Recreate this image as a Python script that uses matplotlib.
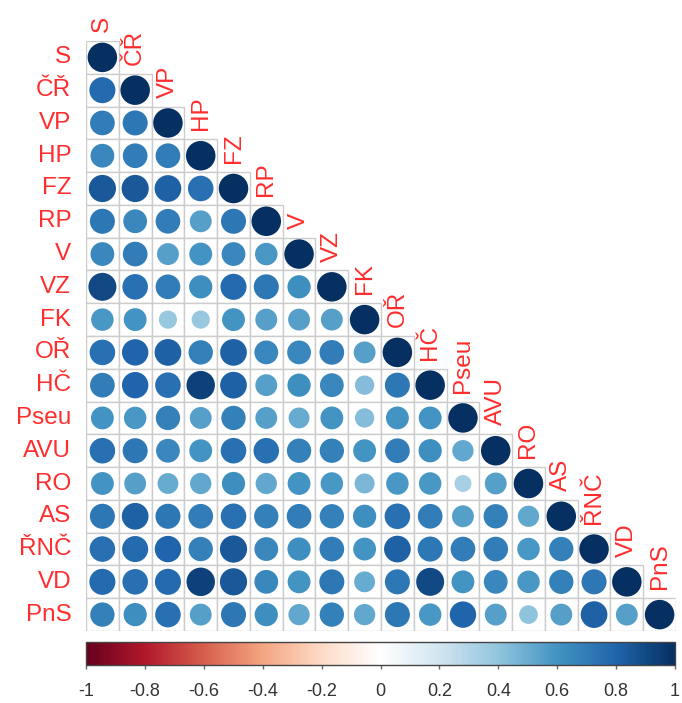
import numpy as np
import matplotlib
matplotlib.use("Agg")
import matplotlib.pyplot as plt
from matplotlib.colors import LinearSegmentedColormap, Normalize
from matplotlib.patches import Circle, Rectangle
from matplotlib.cm import ScalarMappable

plt.rcParams['font.family'] = ['Liberation Sans', 'DejaVu Sans']

labels = ["S", "ČŘ", "VP", "HP", "FZ", "RP", "V", "VZ", "FK", "OŘ",
          "HČ", "Pseu", "AVU", "RO", "AS", "ŘNČ", "VD", "PnS"]

# lower triangle of the correlation matrix, one list per row (diagonal excluded)
rows = [
    [],
    [0.78],
    [0.70, 0.72],
    [0.65, 0.70, 0.70],
    [0.85, 0.85, 0.82, 0.75],
    [0.72, 0.65, 0.70, 0.55, 0.72],
    [0.65, 0.70, 0.55, 0.60, 0.65, 0.58],
    [0.90, 0.75, 0.70, 0.62, 0.78, 0.72, 0.62],
    [0.58, 0.60, 0.38, 0.38, 0.60, 0.55, 0.55, 0.55],
    [0.75, 0.80, 0.82, 0.68, 0.82, 0.65, 0.65, 0.70, 0.55],
    [0.70, 0.80, 0.75, 0.93, 0.82, 0.55, 0.62, 0.65, 0.43, 0.72],
    [0.60, 0.58, 0.68, 0.55, 0.68, 0.55, 0.50, 0.60, 0.43, 0.60, 0.60],
    [0.75, 0.72, 0.65, 0.60, 0.75, 0.75, 0.68, 0.68, 0.60, 0.70, 0.62, 0.52],
    [0.60, 0.55, 0.50, 0.52, 0.62, 0.52, 0.60, 0.58, 0.46, 0.58, 0.58, 0.33, 0.55],
    [0.72, 0.82, 0.72, 0.70, 0.75, 0.68, 0.70, 0.68, 0.62, 0.75, 0.70, 0.55, 0.68, 0.52],
    [0.75, 0.78, 0.80, 0.68, 0.85, 0.65, 0.62, 0.70, 0.60, 0.82, 0.72, 0.70, 0.70, 0.58, 0.68],
    [0.78, 0.75, 0.78, 0.93, 0.85, 0.65, 0.60, 0.72, 0.50, 0.72, 0.90, 0.60, 0.65, 0.58, 0.68, 0.72],
    [0.68, 0.62, 0.75, 0.55, 0.72, 0.62, 0.52, 0.68, 0.52, 0.72, 0.58, 0.80, 0.55, 0.40, 0.55, 0.82, 0.55],
]

ticks = [-1, -0.8, -0.6, -0.4, -0.2, 0, 0.2, 0.4, 0.6, 0.8, 1]

n = len(labels)
corr = np.eye(n)
for i, r in enumerate(rows):
    for j, v in enumerate(r):
        corr[i, j] = v
        corr[j, i] = v

rdbu = LinearSegmentedColormap.from_list(
    "corr_rdbu",
    ["#67001F", "#B2182B", "#D6604D", "#F4A582", "#FDDBC7", "#FFFFFF",
     "#D1E5F0", "#92C5DE", "#4393C3", "#2166AC", "#053061"])
norm = Normalize(-1, 1)

W, H = 682, 703
fig = plt.figure(figsize=(W / 100, H / 100), dpi=100)

# matrix area in pixels
gx0, gy0, gsize = 86, 41, 590
ax = fig.add_axes([gx0 / W, 1 - (gy0 + gsize) / H, gsize / W, gsize / H])
ax.set_xlim(-0.5, n - 0.5)
ax.set_ylim(n - 0.5, -0.5)
ax.axis("off")

for i in range(n):
    for j in range(i + 1):
        ax.add_patch(Rectangle((j - 0.5, i - 0.5), 1, 1, facecolor="white",
                               edgecolor="#cccccc", lw=1.0))
for i in range(n):
    for j in range(i + 1):
        v = corr[i, j]
        ax.add_patch(Circle((j, i), 0.45 * np.sqrt(abs(v)),
                            facecolor=rdbu(norm(v)), edgecolor="none"))

for i, lab in enumerate(labels):
    ax.text(-0.95, i, lab, ha="right", va="center", color="#FF2D2D",
            fontsize=17.5, clip_on=False)
    ax.text(i, i - 0.77, lab, ha="center", va="bottom", rotation=90,
            color="#FF2D2D", fontsize=17.5, clip_on=False)

# colour legend
cax = fig.add_axes([86 / W, 1 - 665 / H, 589 / W, 23 / H])
cb = fig.colorbar(ScalarMappable(norm=norm, cmap=rdbu), cax=cax,
                  orientation="horizontal", ticks=ticks)
cb.ax.set_xticklabels([f"{t:g}" for t in ticks], fontsize=13, color="#333333")
cb.ax.tick_params(length=3, width=1, color="#666666", pad=10)
cb.outline.set_edgecolor("#444444")
cb.outline.set_linewidth(1)

fig.savefig("out.png", dpi=100)
